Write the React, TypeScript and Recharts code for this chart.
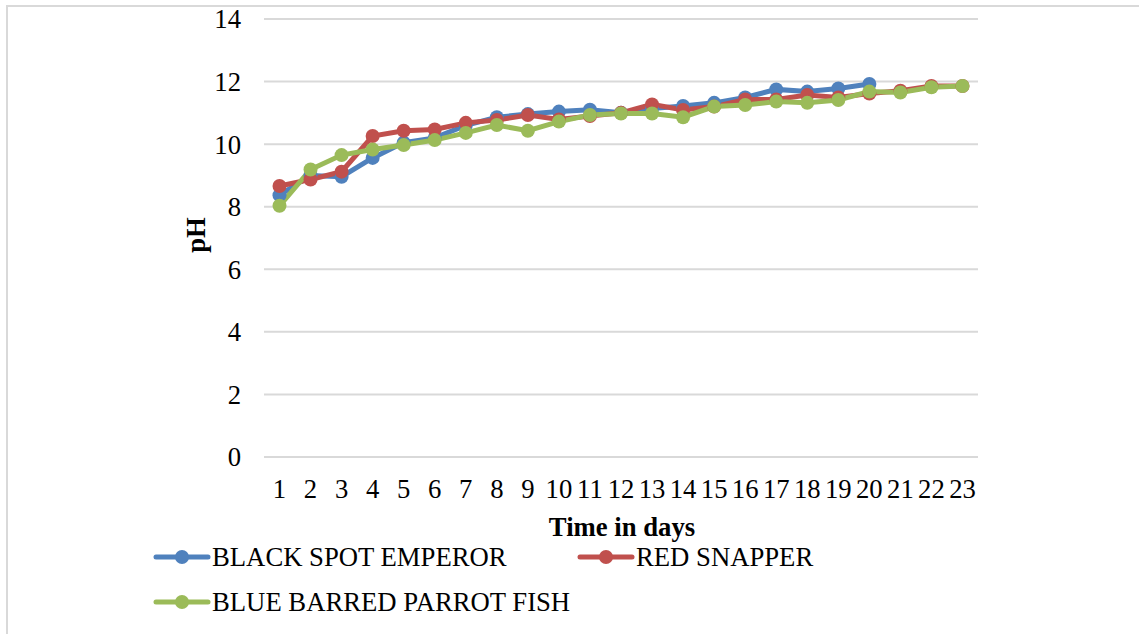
import React from 'react';
import { LineChart, Line, XAxis, YAxis, CartesianGrid } from 'recharts';

// Days on the x axis
const days: string[] = [
  '1', '2', '3', '4', '5', '6', '7', '8', '9', '10', '11', '12',
  '13', '14', '15', '16', '17', '18', '19', '20', '21', '22', '23',
];

// pH readings per species (blank where no reading was taken)
const blackSpotEmperor: (number | null)[] = [
  8.37, 9.0, 8.96, 9.56, 10.05, 10.2, 10.6, 10.86, 10.96, 11.04, 11.1, 11.0,
  11.14, 11.22, 11.32, 11.49, 11.75, 11.68, 11.78, 11.92, null, null, null,
];
const redSnapper: (number | null)[] = [
  8.66, 8.87, 9.12, 10.26, 10.43, 10.47, 10.68, 10.77, 10.93, 10.79, 10.9, 11.0,
  11.27, 11.09, 11.2, 11.43, 11.43, 11.57, 11.49, 11.62, 11.71, 11.86, 11.86,
];
const blueBarredParrotFish: (number | null)[] = [
  8.03, 9.19, 9.65, 9.83, 9.97, 10.13, 10.36, 10.61, 10.43, 10.72, 10.93, 10.98,
  10.98, 10.86, 11.2, 11.25, 11.36, 11.32, 11.41, 11.68, 11.65, 11.82, 11.86,
];

const yTicks: number[] = [0, 2, 4, 6, 8, 10, 12, 14];

const seriesInfo = [
  { key: 'bse', name: 'BLACK SPOT EMPEROR', color: '#4F81BD' },
  { key: 'rs', name: 'RED SNAPPER', color: '#C0504D' },
  { key: 'bbpf', name: 'BLUE BARRED PARROT FISH', color: '#9BBB59' },
];

const data = days.map((d, i) => ({
  day: d,
  bse: blackSpotEmperor[i],
  rs: redSnapper[i],
  bbpf: blueBarredParrotFish[i],
}));

const FONT = "'Liberation Serif', 'Times New Roman', Times, serif";
const FONT_SIZE = 26.7;

function LegendItem({ name, color, left, top }: { name: string; color: string; left: number; top: number }) {
  return (
    <div style={{ position: 'absolute', left, top, display: 'flex', alignItems: 'center', height: 30 }}>
      <svg width={58} height={16} style={{ display: 'block' }}>
        <line x1={3} y1={8} x2={55} y2={8} stroke={color} strokeWidth={5} strokeLinecap="round" />
        <circle cx={29} cy={8} r={7} fill={color} />
      </svg>
      <span style={{ fontFamily: FONT, fontSize: FONT_SIZE, lineHeight: '30px', color: '#000', marginLeft: 1, whiteSpace: 'nowrap' }}>
        {name}
      </span>
    </div>
  );
}

export default function App() {
  return (
    <div style={{ position: 'absolute', left: 0, top: 0, width: 1139, height: 634, background: '#fff', overflow: 'hidden', fontFamily: FONT }}>
      <div
        style={{
          position: 'absolute', left: 6, top: 5, width: 1160, height: 660,
          border: '2px solid #D9D9D9', boxSizing: 'border-box',
        }}
      />
      <div style={{ position: 'absolute', left: 0, top: 0 }}>
        <LineChart
          width={1139}
          height={634}
          data={data}
          margin={{ top: 19, right: 161, left: 0, bottom: 87 }}
          style={{ fontFamily: FONT }}
        >
          <CartesianGrid vertical={false} stroke="#D9D9D9" strokeWidth={2} />
          <XAxis
            dataKey="day"
            height={90}
            axisLine={false}
            tickLine={false}
            interval={0}
            padding={{ left: 15.5, right: 15.5 }}
            tick={{ fontFamily: FONT, fontSize: FONT_SIZE, fill: '#000' }}
            tickMargin={16}
            label={() => (
              <text x={622} y={536} textAnchor="middle" fontFamily={FONT} fontSize={FONT_SIZE} fontWeight="bold" fill="#000">
                Time in days
              </text>
            )}
          />
          <YAxis
            width={264}
            domain={[0, 14]}
            ticks={yTicks}
            axisLine={false}
            tickLine={false}
            tickSize={0}
            tickMargin={23}
            tick={{ fontFamily: FONT, fontSize: FONT_SIZE, fill: '#000' }}
            label={() => (
              <text
                x={205}
                y={235}
                textAnchor="middle"
                transform="rotate(-90 205 235)"
                fontFamily={FONT}
                fontSize={FONT_SIZE}
                fontWeight="bold"
                fill="#000"
              >
                pH
              </text>
            )}
          />
          {seriesInfo.map((s) => (
            <Line
              key={s.key}
              type="linear"
              dataKey={s.key}
              name={s.name}
              stroke={s.color}
              strokeWidth={5}
              dot={{ r: 7, fill: s.color, stroke: s.color, strokeWidth: 0 }}
              activeDot={false}
              isAnimationActive={false}
            />
          ))}
        </LineChart>
      </div>
      <LegendItem name={seriesInfo[0].name} color={seriesInfo[0].color} left={153} top={542} />
      <LegendItem name={seriesInfo[1].name} color={seriesInfo[1].color} left={577} top={542} />
      <LegendItem name={seriesInfo[2].name} color={seriesInfo[2].color} left={153} top={587} />
    </div>
  );
}
